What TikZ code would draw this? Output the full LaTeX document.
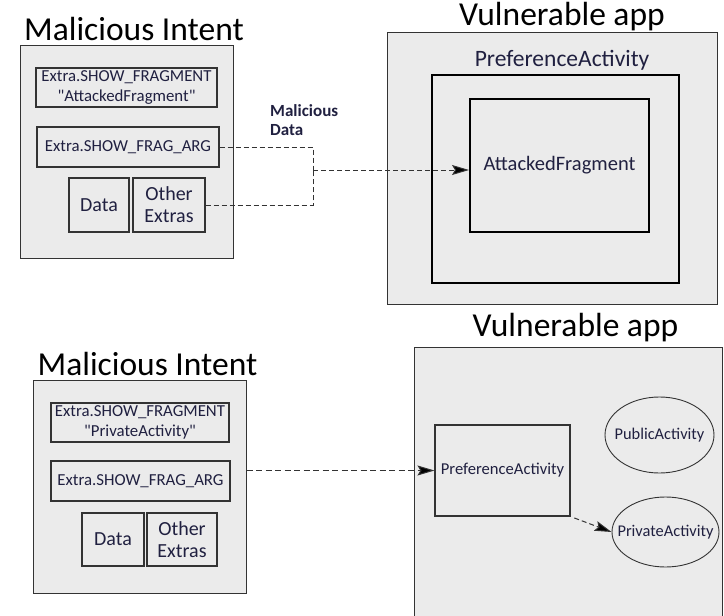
\documentclass[tikz,border=0pt]{standalone}
\usepackage{fontspec}
\setmainfont{Carlito}[Ligatures=TeXOff]
\usepackage{tikz}
\usetikzlibrary{arrows.meta,positioning,calc,shapes.geometric}
\definecolor{Ink}{HTML}{202040}
\definecolor{Edge}{HTML}{333333}
\definecolor{SoftGrey}{HTML}{EBEBEB}

\begin{document}
\begin{tikzpicture}[x=1pt,y=-1pt,
    panel/.style={rectangle,draw=Edge,fill=SoftGrey,line width=1pt,inner sep=0pt},
    block/.style={rectangle,draw=Edge,fill=SoftGrey,line width=1.1pt,align=center,inner sep=0pt,text=Ink},
    heavy/.style={rectangle,draw=black,fill=SoftGrey,inner sep=0pt,text=Ink},
    actor/.style={ellipse,draw=Edge,fill=SoftGrey,line width=0.9pt,inner sep=0pt,label={[text=Ink,font=\fontsize{16.4}{18}\selectfont]center:#1}},
    title/.style={text=black,font=\fontsize{33.5}{35}\selectfont},
    small/.style={font=\fontsize{16.8}{20}\selectfont},
    big/.style={font=\fontsize{20}{22}\selectfont},
    dline/.style={dash pattern=on 5pt off 3pt,line width=1pt,draw=Edge},
    darrow/.style={dline,-{Stealth[length=17pt,width=10pt,inset=3pt,fill=black]}}
]
\clip (0,0) rectangle (724,616);
\fill[white] (0,0) rectangle (724,616);

% upper attack: malicious intent
\node[panel,minimum width=213pt,minimum height=213pt] (intent1) at (126.5,151.5) {};
\node[title] (title1) at (134,29) {Malicious Intent};
\node[block,small,minimum width=181pt,minimum height=39pt] (show1) at (126.5,87.5) {Extra.SHOW\_FRAGMENT\\"AttackedFragment"};
\node[block,small,minimum width=182pt,minimum height=40pt] (arg1) at (128,147) {Extra.SHOW\_FRAG\_ARG};
\node[block,big,minimum width=60pt,minimum height=54pt] (data1) at (99,205) {Data};
\node[block,big,minimum width=72pt,minimum height=54pt] (extras1) at (169,205) {Other\\Extras};

% upper attack: vulnerable app
\node[panel,minimum width=330pt,minimum height=272pt] (app1) at (552,168) {};
\node[title] (title2) at (562,17) {Vulnerable app};
\node[text=Ink,font=\fontsize{23.5}{25}\selectfont] (prefname1) at (562,60) {PreferenceActivity};
\node[heavy,line width=2.6pt,minimum width=247pt,minimum height=208pt] (pref1) at (555.5,179) {};
\node[heavy,line width=2pt,minimum width=179pt,minimum height=133pt,font=\fontsize{20.5}{22}\selectfont] (frag) at (559.5,165.5) {AttackedFragment};

\coordinate (jn) at (313,170);
\node[text=Ink,align=left,anchor=north west,inner sep=0pt,font=\bfseries\fontsize{17}{19}\selectfont] (mdata) at (270,104) {Malicious\\Data};
\draw[dline] (arg1.east) -| (jn);
\draw[dline] (extras1.east) -| (jn);
\draw[darrow] (jn) -- (jn -| frag.west);

% lower attack: malicious intent
\node[panel,minimum width=213pt,minimum height=213pt] (intent2) at (139.5,486.5) {};
\node[title] (title3) at (147.5,364) {Malicious Intent};
\node[block,small,minimum width=178pt,minimum height=39pt] (show2) at (140,422.5) {Extra.SHOW\_FRAGMENT\\"PrivateActivity"};
\node[block,small,minimum width=179pt,minimum height=40pt] (arg2) at (140.5,481) {Extra.SHOW\_FRAG\_ARG};
\node[block,big,minimum width=62pt,minimum height=53pt] (data2) at (113,539.5) {Data};
\node[block,big,minimum width=70pt,minimum height=53pt] (extras2) at (182,539.5) {Other\\Extras};

% lower attack: vulnerable app
\node[panel,minimum width=308pt,minimum height=300pt] (app2) at (568,497) {};
\node[title] (title4) at (575.5,328) {Vulnerable app};
\node[block,minimum width=135pt,minimum height=91pt,font=\fontsize{16.6}{18}\selectfont] (pref2) at (502.5,470.5) {PreferenceActivity};
\node[actor=PublicActivity,minimum width=109pt,minimum height=76pt] (public) at (659.5,435) {};
\node[actor=PrivateActivity,minimum width=107pt,minimum height=70pt] (private) at (665.5,532) {};

\draw[darrow,dash pattern=on 6pt off 3.5pt] (pref2.west -| intent2.east) -- (pref2.west);
\draw[darrow,dash pattern=on 5pt off 3pt,shorten <=4pt] (pref2.south east) -- (private.west);
\end{tikzpicture}
\end{document}
